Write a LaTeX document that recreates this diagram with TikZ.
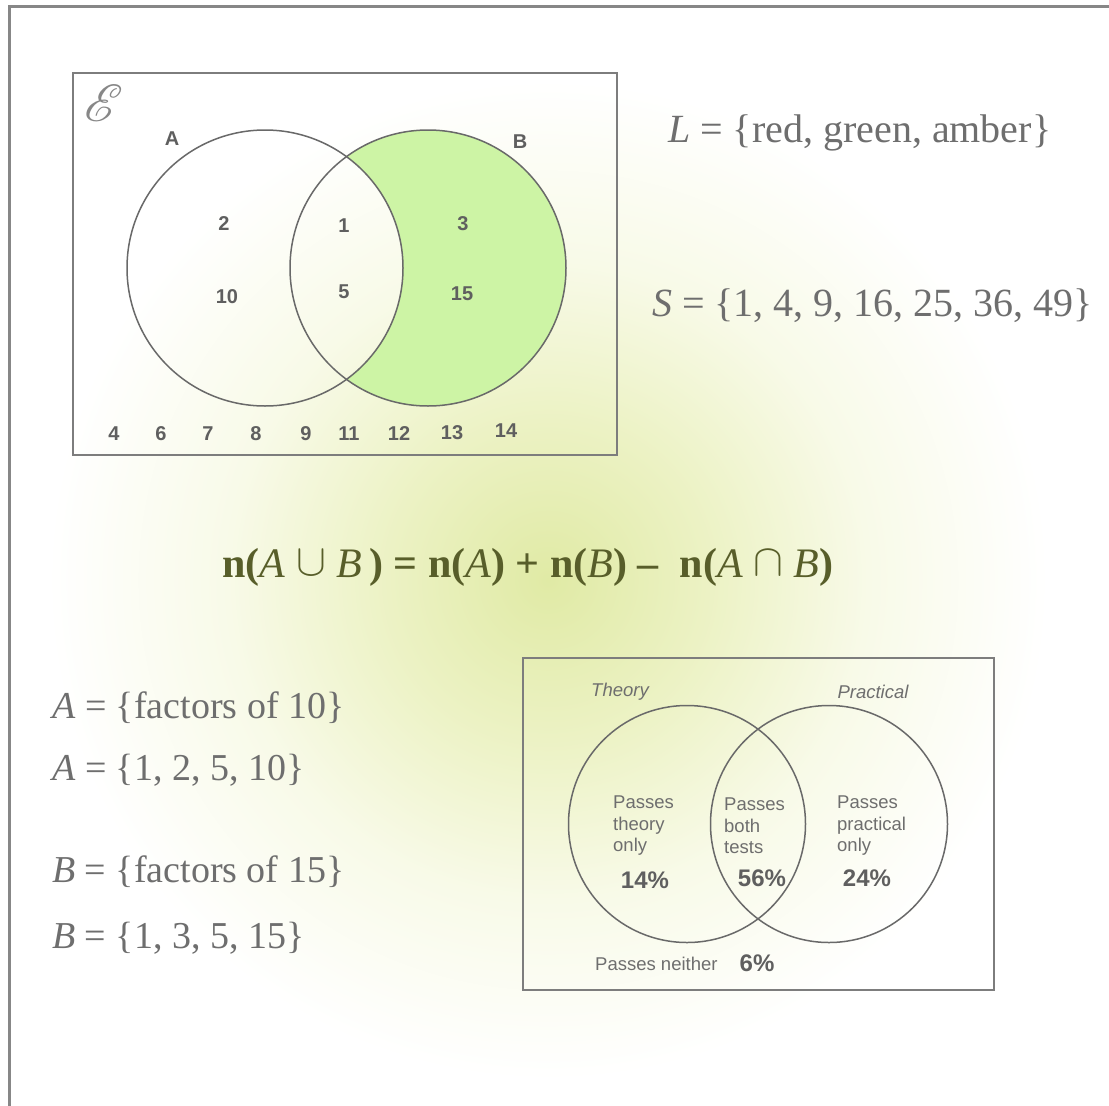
\documentclass[tikz,border=0pt]{standalone}
\usepackage{fontspec}
\setmainfont{Liberation Serif}
\newfontfamily\arial{Liberation Sans}
\usepackage{mathrsfs}
\usepackage{graphicx}
\definecolor{glowA}{RGB}{224,234,165}
\definecolor{glowB}{RGB}{236,242,196}
\definecolor{glowC}{RGB}{248,250,232}
\definecolor{bfill}{RGB}{205,244,165}
\definecolor{boxgray}{RGB}{125,125,125}
\definecolor{ringgray}{RGB}{105,105,105}
\definecolor{numgray}{RGB}{95,95,95}
\definecolor{txtgray}{RGB}{110,110,110}
\definecolor{sertext}{RGB}{110,110,110}
\definecolor{olive}{RGB}{88,94,42}
\definecolor{outer}{RGB}{135,135,135}
\pgfdeclareradialshading{myglow}{\pgfpoint{0bp}{0bp}}{color(0bp)=(glowA); color(8bp)=(glowB); color(16bp)=(glowC); color(25bp)=(white); color(50bp)=(white)}
\tikzset{
  sertxt/.style={font=\fontsize{38}{44}\selectfont, text=sertext, inner sep=0pt},
  vnum/.style={font=\arial\bfseries\fontsize{20}{24}\selectfont, text=numgray, inner sep=0pt},
  ptxt/.style={font=\arial\fontsize{18.5}{21.5}\selectfont, text=txtgray, align=left, inner sep=0pt, anchor=west},
  pct/.style={font=\arial\bfseries\fontsize{24}{28}\selectfont, text=numgray, inner sep=0pt},
  boxline/.style={draw=boxgray, line width=2pt},
  ring/.style={draw=ringgray, line width=1.5pt},
}
\newcommand{\bigop}[1]{\raisebox{0.05em}{\scalebox{1.8}{$#1$}}}
\begin{document}
\begin{tikzpicture}[x=1pt,y=-1pt]
\useasboundingbox (0,0) rectangle (1109,1106);
\fill[white] (0,0) rectangle (1109,1106);
\begin{scope}
  \clip (0,0) rectangle (1109,1106);
  \shade[shading=myglow] (548,580) circle (500pt);
\end{scope}
% outer frame (top and left)
\draw[outer, line width=3pt] (9,1106) -- (9,6) -- (1109,6);

% ---------- top Venn diagram ----------
\coordinate (cA) at (265,268);
\coordinate (cB) at (428,268);
\begin{scope}
  \clip (cB) circle (138pt);
  \fill[bfill, even odd rule] (cB) circle (138pt) (cA) circle (138pt);
\end{scope}
\draw[ring] (cA) circle (138pt);
\draw[ring] (cB) circle (138pt);
\draw[boxline] (73,73) rectangle (617,455);
\node[text=outer, font=\fontsize{24}{24}\selectfont, inner sep=0pt] (uni) at (104,103) {\scalebox{2.1}{$\mathscr{E}$}};
\node[vnum] (lA) at (172,139) {A};
\node[vnum] (lB) at (520,142) {B};
\node[vnum] (n2) at (224,224) {2};
\node[vnum] (n10) at (227,297) {10};
\node[vnum] (n1) at (344,226) {1};
\node[vnum] (n5) at (344,292) {5};
\node[vnum] (n3) at (463,224) {3};
\node[vnum] (n15) at (462,294) {15};
\node[vnum] (n4) at (114,434) {4};
\node[vnum] (n6) at (161,434) {6};
\node[vnum] (n7) at (208,434) {7};
\node[vnum] (n8) at (256,434) {8};
\node[vnum] (n9) at (306,434) {9};
\node[vnum] (n11) at (349,434) {11};
\node[vnum] (n12) at (399,434) {12};
\node[vnum] (n13) at (452,433) {13};
\node[vnum] (n14) at (506,431) {14};

% ---------- set statements ----------
\node[sertxt, anchor=west, font=\fontsize{40}{46}\selectfont] (Lset) at (668,133) {\textit{L} = \{red, green, amber\}};
\node[sertxt, anchor=west, font=\fontsize{40}{46}\selectfont] (Sset) at (652,306) {\textit{S} = \{1, 4, 9, 16, 25, 36, 49\}};

\node[sertxt, anchor=center, text=olive, font=\fontsize{42}{46}\selectfont] (formula) at (528,567)
  {\bfseries n(\textit{\mdseries A} \bigop{\cup} \textit{\mdseries B}\,) = n(\textit{\mdseries A}) + n(\textit{\mdseries B}) –\ \ n(\textit{\mdseries A} \bigop{\cap} \textit{\mdseries B})};

\node[sertxt, anchor=west] (A1) at (52,708) {\textit{A} = \{factors of 10\}};
\node[sertxt, anchor=west] (A2) at (52,770) {\textit{A} = \{1, 2, 5, 10\}};
\node[sertxt, anchor=west] (B1) at (52,872) {\textit{B} = \{factors of 15\}};
\node[sertxt, anchor=west] (B2) at (52,938) {\textit{B} = \{1, 3, 5, 15\}};

% ---------- bottom Venn diagram ----------
\draw[boxline] (523,658) rectangle (994,990);
\coordinate (cT) at (687,824);
\coordinate (cP) at (829,824);
\draw[ring] (cT) circle (118.5pt);
\draw[ring] (cP) circle (118.5pt);
\node[ptxt, anchor=center, font=\arial\itshape\fontsize{18.5}{21.5}\selectfont] (theory) at (620,692) {Theory};
\node[ptxt, anchor=center, font=\arial\itshape\fontsize{18.5}{21.5}\selectfont] (practical) at (873,692) {Practical};
\node[ptxt] (tonly) at (613,826) {Passes\\theory\\only};
\node[ptxt] (both) at (724,826) {Passes\\both\\tests};
\node[ptxt] (ponly) at (837,826) {Passes\\practical\\only};
\node[pct] (p14) at (645,880) {14\%};
\node[pct] (p56) at (762,878) {56\%};
\node[pct] (p24) at (867,878) {24\%};
\node[ptxt] (neither) at (595,964) {Passes neither};
\node[pct] (p6) at (757,963) {6\%};
\end{tikzpicture}
\end{document}
